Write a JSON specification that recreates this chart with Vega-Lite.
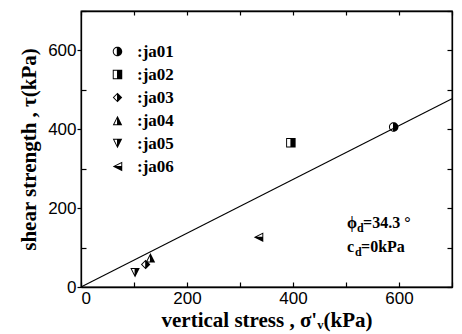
{
  "$schema": "https://vega.github.io/schema/vega-lite/v6.json",
  "width": 371,
  "height": 276,
  "autosize": {"type": "none"},
  "padding": {"left": 81, "top": 11, "right": 10, "bottom": 47},
  "background": "white",
  "config": {
    "view": {"stroke": "black", "strokeWidth": 1.3},
    "axis": {
      "grid": false,
      "domainColor": "black",
      "domainWidth": 1.3,
      "tickColor": "black",
      "tickWidth": 1.2,
      "labelColor": "black",
      "labelFont": "Liberation Sans",
      "labelFontSize": 17,
      "titleColor": "black",
      "titleFont": "Liberation Serif",
      "titleFontWeight": "bold",
      "titleFontSize": 21
    }
  },
  "datasets": {
    "tests": [
      {"series": "ja01", "sv": 590, "tau": 406},
      {"series": "ja02", "sv": 396, "tau": 366},
      {"series": "ja03", "sv": 122, "tau": 57},
      {"series": "ja04", "sv": 131, "tau": 74},
      {"series": "ja05", "sv": 102, "tau": 36},
      {"series": "ja06", "sv": 335, "tau": 126}
    ],
    "fit": [
      {"sv": 0, "tau": 0},
      {"sv": 700, "tau": 477.5}
    ],
    "notes": [
      {"id": "phi", "sym": "ϕ", "sub": "d", "rest": "=34.3 °", "sv": 502, "tau": 149},
      {"id": "c", "sym": "c", "sub": "d", "rest": "=0kPa", "sv": 502, "tau": 90}
    ]
  },
  "layer": [
    {
      "data": {"name": "fit"},
      "mark": {"type": "line", "color": "black", "strokeWidth": 1.1},
      "encoding": {
        "x": {"field": "sv", "type": "quantitative", "scale": {"domain": [0, 700], "nice": false},
              "axis": {"orient": "top", "values": [0, 100, 200, 300, 400, 500, 600, 700], "labels": false, "title": null, "tickSize": -4}},
        "y": {"field": "tau", "type": "quantitative", "scale": {"domain": [0, 700], "nice": false},
              "axis": {"orient": "right", "values": [0, 100, 200, 300, 400, 500, 600, 700], "labels": false, "title": null, "tickSize": -5}}
      }
    },
    {
      "data": {"name": "tests"},
      "mark": {"type": "point", "filled": true, "color": "black", "strokeWidth": 0, "opacity": 1, "size": 90},
      "encoding": {
        "x": {"field": "sv", "type": "quantitative",
              "axis": {"orient": "bottom", "values": [0, 100, 200, 300, 400, 500, 600, 700],
                       "labelExpr": "datum.value % 200 === 0 ? datum.label : ''",
                       "tickSize": -5, "labelPadding": 8,
                       "title": "vertical stress , σ'ᵥ(kPa)", "titlePadding": 3}},
        "y": {"field": "tau", "type": "quantitative",
              "axis": {"orient": "left", "values": [0, 100, 200, 300, 400, 500, 600, 700],
                       "labelExpr": "datum.value % 200 === 0 ? datum.label : ''",
                       "tickSize": {"condition": {"test": "datum.value % 200 === 0", "value": 4}, "value": -5},
                       "labelPadding": 1,
                       "title": "shear strength , τ(kPa)", "titlePadding": 8}},
        "shape": {"field": "series", "type": "nominal",
                  "scale": {"domain": ["ja01", "ja02", "ja03", "ja04", "ja05", "ja06"],
                            "range": [
                              "M0,-1A1,1,0,1,1,0,1A1,1,0,1,1,0,-1ZM-0.15,-0.786A0.8,0.8,0,0,0,-0.15,0.786Z",
                              "M-1,-1H1V1H-1ZM-0.8,-0.8V0.8H-0.1V-0.8Z",
                              "M0,-1L1,0L0,1L-1,0ZM-0.1,-0.62L-0.72,0L-0.1,0.62Z",
                              "M0,-1L1,1L-1,1ZM-0.1,-0.352L-0.676,0.8L-0.1,0.8Z",
                              "M0,1L-1,-1L1,-1ZM-0.1,0.352L-0.1,-0.8L-0.676,-0.8Z",
                              "M-1,0L1,-1L1,1ZM-0.352,-0.1L0.8,-0.1L0.8,-0.676Z"
                            ]},
                  "legend": {"orient": "none", "legendX": 28, "legendY": 32, "title": null, "padding": 0,
                             "labelExpr": "':' + datum.label",
                             "labelFont": "Liberation Serif", "labelFontWeight": "bold", "labelFontSize": 17, "labelColor": "black",
                             "symbolSize": 90, "symbolFillColor": "black", "symbolStrokeWidth": 0,
                             "symbolOpacity": 1, "rowPadding": 5, "labelOffset": 11}}
      }
    },
    {
      "data": {"name": "notes"},
      "transform": [{"filter": "datum.id === 'phi'"}],
      "layer": [
        {"mark": {"type": "text", "align": "left", "baseline": "alphabetic", "font": "Liberation Serif", "fontWeight": "bold", "fontSize": 16, "color": "black"},
         "encoding": {"text": {"field": "sym"}}},
        {"mark": {"type": "text", "align": "left", "baseline": "alphabetic", "font": "Liberation Serif", "fontWeight": "bold", "fontSize": 12, "color": "black", "dx": 10, "dy": 4},
         "encoding": {"text": {"field": "sub"}}},
        {"mark": {"type": "text", "align": "left", "baseline": "alphabetic", "font": "Liberation Serif", "fontWeight": "bold", "fontSize": 16, "color": "black", "dx": 16},
         "encoding": {"text": {"field": "rest"}}}
      ],
      "encoding": {
        "x": {"field": "sv", "type": "quantitative", "axis": null},
        "y": {"field": "tau", "type": "quantitative", "axis": null}
      }
    },
    {
      "data": {"name": "notes"},
      "transform": [{"filter": "datum.id === 'c'"}],
      "layer": [
        {"mark": {"type": "text", "align": "left", "baseline": "alphabetic", "font": "Liberation Serif", "fontWeight": "bold", "fontSize": 16, "color": "black"},
         "encoding": {"text": {"field": "sym"}}},
        {"mark": {"type": "text", "align": "left", "baseline": "alphabetic", "font": "Liberation Serif", "fontWeight": "bold", "fontSize": 12, "color": "black", "dx": 8, "dy": 4},
         "encoding": {"text": {"field": "sub"}}},
        {"mark": {"type": "text", "align": "left", "baseline": "alphabetic", "font": "Liberation Serif", "fontWeight": "bold", "fontSize": 16, "color": "black", "dx": 14},
         "encoding": {"text": {"field": "rest"}}}
      ],
      "encoding": {
        "x": {"field": "sv", "type": "quantitative", "axis": null},
        "y": {"field": "tau", "type": "quantitative", "axis": null}
      }
    }
  ],
  "resolve": {"axis": {"x": "independent", "y": "independent"}}
}
